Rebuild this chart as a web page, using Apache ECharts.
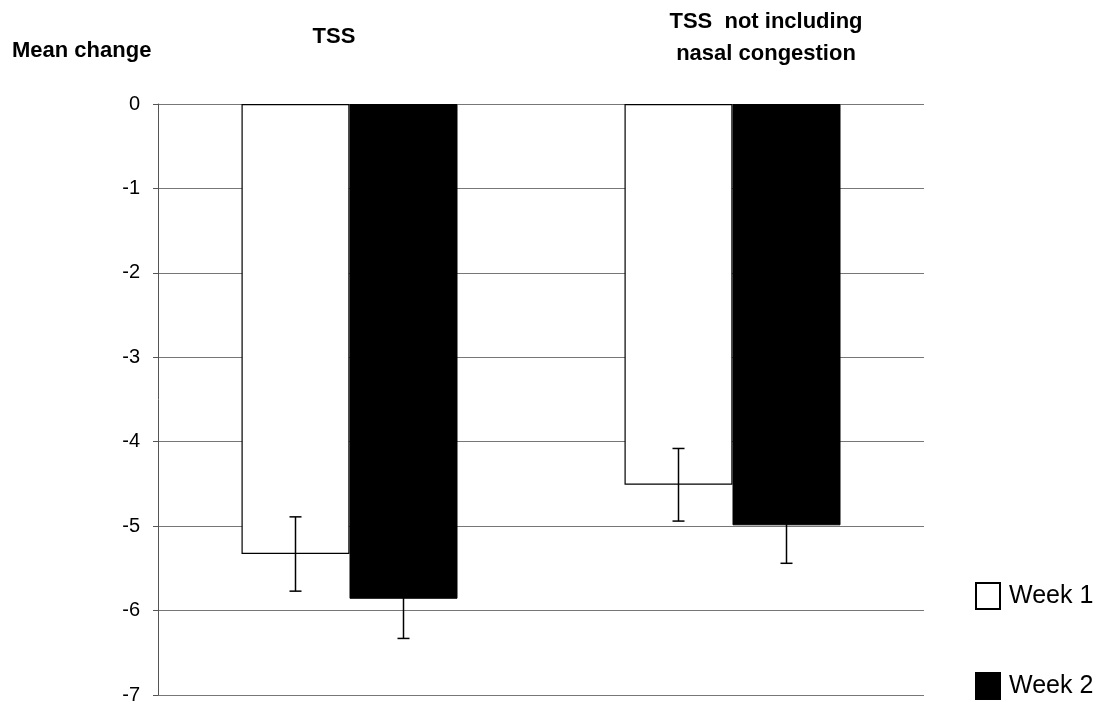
<!DOCTYPE html>
<html>
<head>
<meta charset="utf-8">
<script src="https://cdn.jsdelivr.net/npm/echarts@6/dist/echarts.min.js"></script>
<style>html,body{margin:0;padding:0;background:#fff}#c{width:1101px;height:705px}</style>
</head>
<body>
<div id="c"></div>
<script>
const categories = ["TSS", "TSS  not including\nnasal congestion"];
const seriesNames = ["Week 1", "Week 2"];
const week1 = [-5.33, -4.51];
const week2 = [-5.86, -4.99];
const week1Err = [0.44, 0.43];
const week2Err = [0.47, 0.45];
const yTicks = [-7, -6, -5, -4, -3, -2, -1, 0];

const FONT = '"Liberation Sans", Arial, Helvetica, sans-serif';
const BAR_W = 108;
const chart = echarts.init(document.getElementById('c'));

function errSeries(values, errs, side, name) {
  return {
    type: 'custom',
    name: name + ' err',
    z: 5,
    silent: true,
    data: values.map((v, i) => [i, v, errs[i]]),
    renderItem: function (params, api) {
      const i = api.value(0), v = api.value(1), e = api.value(2);
      const top = api.coord([i, v + e]);
      const bot = api.coord([i, v - e]);
      const x = top[0] + side * BAR_W / 2;
      const cap = 6;
      const st = { stroke: '#000', lineWidth: 1.5 };
      return {
        type: 'group',
        children: [
          { type: 'line', shape: { x1: x, y1: top[1], x2: x, y2: bot[1] }, style: st },
          { type: 'line', shape: { x1: x - cap, y1: top[1], x2: x + cap, y2: top[1] }, style: st },
          { type: 'line', shape: { x1: x - cap, y1: bot[1], x2: x + cap, y2: bot[1] }, style: st }
        ]
      };
    }
  };
}

const option = {
  backgroundColor: '#fff',
  animation: false,
  grid: { left: 158, right: 177, top: 104, bottom: 9, containLabel: false },
  xAxis: {
    type: 'category',
    data: categories,
    boundaryGap: true,
    axisLine: { show: false },
    axisTick: { show: false },
    axisLabel: { show: false },
    splitLine: { show: false }
  },
  yAxis: {
    type: 'value',
    min: yTicks[0],
    max: yTicks[yTicks.length - 1],
    interval: 1,
    axisLine: { show: true, lineStyle: { color: '#555', width: 1 } },
    axisTick: { show: true, length: 5, lineStyle: { color: '#555' } },
    axisLabel: { color: '#000', fontSize: 20, fontFamily: FONT, margin: 18 },
    splitLine: { show: true, lineStyle: { color: '#777', width: 1 } }
  },
  legend: {
    orient: 'vertical',
    left: 970,
    top: 577,
    itemWidth: 24,
    itemHeight: 26,
    itemGap: 62,
    icon: 'rect',
    textStyle: { color: '#000', fontSize: 25, fontFamily: FONT, padding: [0, 0, 0, 4] },
    data: seriesNames
  },
  graphic: [
    { type: 'text', left: 12, top: 40, style: { text: 'Mean change', font: 'bold 22px ' + FONT, fill: '#000' } },
    { type: 'text', x: 334, y: 37, style: { text: categories[0], font: 'bold 22px ' + FONT, fill: '#000', textAlign: 'center', textVerticalAlign: 'middle' } },
    { type: 'text', x: 766, y: 38, style: { text: categories[1], font: 'bold 22px ' + FONT, fill: '#000', textAlign: 'center', textVerticalAlign: 'middle', lineHeight: 32 } }
  ],
  series: [
    {
      name: seriesNames[0], type: 'bar', data: week1, barWidth: BAR_W, barGap: '0%',
      itemStyle: { color: '#fff', borderColor: '#000', borderWidth: 1.2 }, z: 3
    },
    {
      name: seriesNames[1], type: 'bar', data: week2, barWidth: BAR_W, barGap: '0%',
      itemStyle: { color: '#000', borderColor: '#000', borderWidth: 1 }, z: 3
    },
    errSeries(week1, week1Err, -1, seriesNames[0]),
    errSeries(week2, week2Err, 1, seriesNames[1])
  ]
};
chart.setOption(option);
</script>
</body>
</html>
